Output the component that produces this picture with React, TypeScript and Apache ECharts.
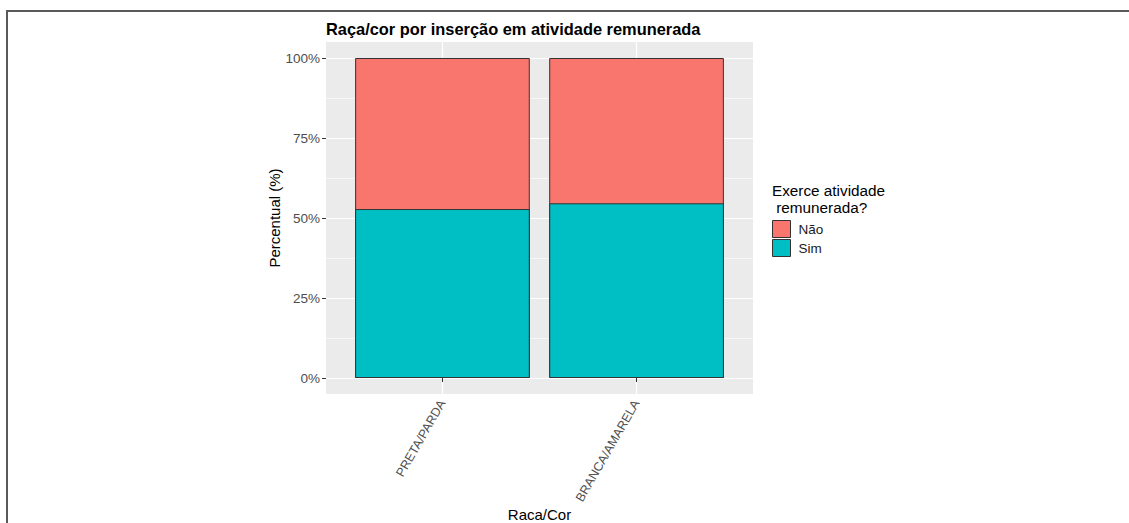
import React, { useEffect, useRef } from 'react';
import * as echarts from 'echarts';

const categories = ['PRETA/PARDA', 'BRANCA/AMARELA'];
const simValues = [52.8, 54.6];
const naoValues = [47.2, 45.4];
const yTickValues = [0, 25, 50, 75, 100];
const yMinorValues = [12.5, 37.5, 62.5, 87.5];
const xPositions = categories.map((_, i) => i + 1);

export default function App() {
  const ref = useRef<HTMLDivElement>(null);
  useEffect(() => {
    const chart = echarts.init(ref.current!, null, { renderer: 'svg' });
    const font = '"Liberation Sans", Arial, sans-serif';
    // top of the "Não" segment = Sim + Não (drawn underneath the "Sim" segment)
    const naoTop = naoValues.map((v, i) => v + simValues[i]);
    chart.setOption({
      animation: false,
      textStyle: { fontFamily: font },
      title: [
        {
          text: 'Raça/cor por inserção em atividade remunerada',
          left: 326,
          top: 21,
          padding: 0,
          textStyle: { fontSize: 16.4, fontWeight: 'bold', color: '#000', fontFamily: font },
        },
        {
          text: 'Exerce atividade\n remunerada?',
          left: 772,
          top: 182,
          padding: 0,
          textStyle: { fontSize: 15.3, fontWeight: 'normal', color: '#000', lineHeight: 17, fontFamily: font },
        },
      ],
      legend: {
        data: ['Não', 'Sim'],
        orient: 'vertical',
        left: 772,
        top: 220,
        padding: 0,
        itemWidth: 18,
        itemHeight: 17,
        itemGap: 1,
        icon: 'rect',
        itemStyle: { borderColor: '#333', borderWidth: 1 },
        textStyle: { fontSize: 13.5, color: '#1a1a1a', padding: [0, 0, 0, 3], fontFamily: font },
      },
      grid: {
        left: 326,
        right: 376,
        top: 42,
        bottom: 129,
        show: true,
        backgroundColor: '#EBEBEB',
        borderWidth: 0,
        containLabel: false,
        outerBoundsMode: 'none',
      },
      xAxis: {
        type: 'value',
        min: 0.4,
        max: 2.6,
        axisLine: { show: false },
        axisTick: { customValues: xPositions, length: 4, lineStyle: { color: '#333' } },
        axisLabel: {
          customValues: xPositions,
          formatter: (v: number) => categories[Math.round(v) - 1] ?? '',
          rotate: 60,
          fontSize: 12.5,
          color: '#4D4D4D',
          margin: 7,
        },
        splitLine: { show: true, lineStyle: { color: '#fff', width: 1.2 } },
        name: 'Raca/Cor',
        nameLocation: 'middle',
        nameGap: 113,
        nameMoveOverlap: false,
        nameTextStyle: { fontSize: 15, color: '#000' },
      },
      yAxis: [
        {
          type: 'value',
          min: -5,
          max: 105,
          axisLine: { show: false },
          axisTick: { show: true, customValues: yTickValues, length: 4, lineStyle: { color: '#333' } },
          axisLabel: { customValues: yTickValues, formatter: '{value}%', color: '#4D4D4D', fontSize: 13.5, margin: 6 },
          splitLine: { show: true, lineStyle: { color: '#fff', width: 1.2 } },
          name: 'Percentual (%)',
          nameLocation: 'middle',
          nameGap: 44,
          nameMoveOverlap: false,
          nameTextStyle: { fontSize: 15, color: '#000' },
        },
        {
          type: 'value',
          min: -5,
          max: 105,
          axisLine: { show: false },
          axisTick: { show: false, customValues: yMinorValues },
          axisLabel: { show: false, customValues: yMinorValues },
          splitLine: { show: true, lineStyle: { color: '#fff', width: 0.6 } },
        },
      ],
      series: [
        {
          name: 'Não',
          type: 'bar',
          barWidth: '90%',
          barGap: '-100%',
          data: xPositions.map((x, i) => [x, naoTop[i]]),
          itemStyle: { color: '#F8766D', borderColor: '#333', borderWidth: 1 },
        },
        {
          name: 'Sim',
          type: 'bar',
          barWidth: '90%',
          barGap: '-100%',
          data: xPositions.map((x, i) => [x, simValues[i]]),
          itemStyle: { color: '#00BFC4', borderColor: '#333', borderWidth: 1 },
        },
      ],
      graphic: [
        {
          type: 'polyline',
          shape: { points: [[7, 523], [7, 11], [1129, 11]] },
          style: { stroke: '#5a5a5a', lineWidth: 2, fill: null },
          silent: true,
        },
      ],
    });
    return () => chart.dispose();
  }, []);
  return <div ref={ref} style={{ position: 'absolute', left: 0, top: 0, width: 1129, height: 523 }} />;
}
